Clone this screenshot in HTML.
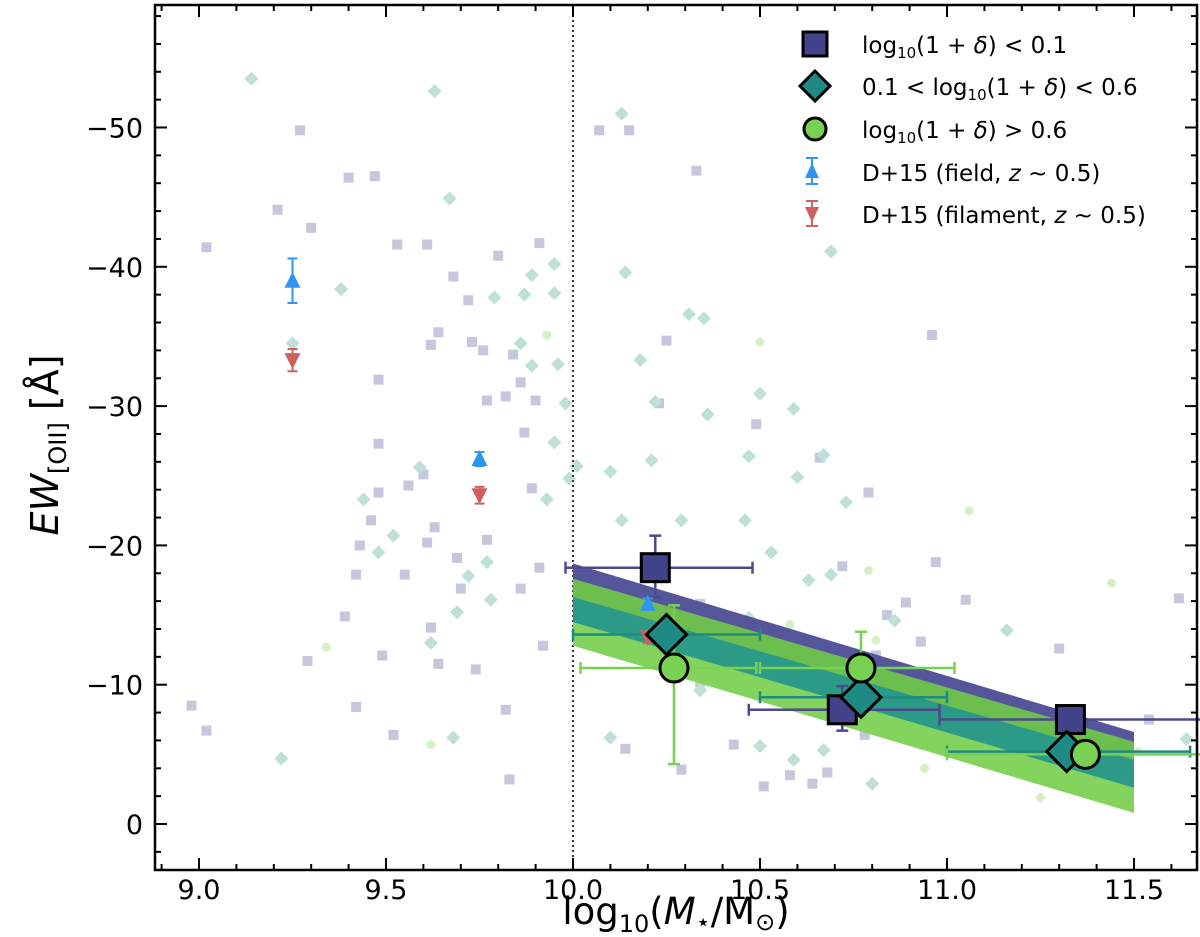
<!DOCTYPE html>
<html><head><meta charset="utf-8"><style>
body{margin:0;background:#fff}
svg{display:block;font-family:"DejaVu Sans","Liberation Sans",sans-serif}
</style></head><body>
<svg id="chart" width="1200" height="937" viewBox="0 0 1200 937"></svg>
<script>
// ---- data ----
const bgSqX=[8.98,9.02,9.02,9.27,9.30,9.29,9.40,9.47,9.21,9.48,9.48,9.48,9.46,9.43,9.42,9.39,9.49,9.42,9.52,9.53,9.61,9.64,9.62,9.68,9.72,9.73,9.76,9.77,9.80,9.82,9.84,9.86,9.87,9.90,9.89,9.91,9.91,9.86,9.77,9.70,9.69,9.63,9.61,9.60,9.56,9.55,9.62,9.64,9.74,9.82,9.83,9.92,10.07,10.15,10.33,10.25,10.23,10.34,10.34,10.41,10.43,10.51,10.58,10.64,10.68,10.75,10.81,10.89,10.93,10.96,10.66,10.49,10.72,10.79,10.84,10.97,11.05,11.17,11.30,11.62,11.54,11.37,10.14,10.29,10.68,10.78];
const bgSqY=[-8.5,-41.4,-6.7,-49.8,-42.8,-11.7,-46.4,-46.5,-44.1,-31.9,-27.3,-23.8,-21.8,-20.0,-17.9,-14.9,-12.1,-8.4,-6.4,-41.6,-41.6,-35.3,-34.4,-39.3,-37.6,-34.6,-34.0,-30.4,-40.8,-30.7,-33.7,-31.7,-28.1,-30.4,-24.1,-41.7,-18.4,-16.9,-20.4,-16.9,-19.1,-21.3,-20.2,-25.1,-24.3,-17.9,-14.1,-11.5,-11.1,-8.2,-3.2,-12.8,-49.8,-49.8,-46.9,-34.7,-30.2,-15.8,-10.2,-11.6,-5.7,-2.7,-3.5,-2.9,-9.0,-11.5,-12.1,-15.9,-13.1,-35.1,-26.3,-28.7,-18.5,-23.8,-15.0,-18.8,-16.1,-6.9,-12.6,-16.2,-7.5,-4.0,-5.4,-3.9,-3.7,-6.4];
const bgDiX=[9.14,9.22,9.38,9.25,9.44,9.48,9.52,9.59,9.62,9.69,9.72,9.77,9.78,9.93,9.68,10.13,9.63,9.67,10.14,10.31,10.35,9.95,9.95,9.89,9.87,9.79,9.86,9.89,9.96,9.98,9.95,10.01,9.99,10.10,10.18,10.21,10.36,10.22,10.29,10.47,10.50,10.59,10.67,10.60,10.46,10.53,10.47,10.63,10.69,10.73,10.76,10.67,10.80,11.43,11.64,11.21,11.16,10.10,10.34,10.45,10.50,10.59,10.62,10.86,10.69,10.79,11.09,10.06,10.13];
const bgDiY=[-53.5,-4.7,-38.4,-34.5,-23.3,-19.5,-20.7,-25.6,-13.0,-15.2,-17.8,-18.8,-16.1,-23.3,-6.2,-51.0,-52.6,-44.9,-39.6,-36.6,-36.3,-40.2,-38.1,-39.4,-38.0,-37.8,-34.5,-32.9,-33.0,-30.2,-27.4,-25.7,-24.8,-25.3,-33.3,-26.1,-29.4,-30.3,-21.8,-26.4,-30.9,-29.8,-26.5,-24.9,-21.8,-19.5,-14.8,-17.5,-41.1,-23.1,-11.1,-5.3,-2.9,-5.2,-6.1,-7.1,-13.9,-6.2,-9.6,-13.8,-5.6,-4.6,-12.0,-14.6,-17.9,-7.8,-8.9,-14.9,-21.8];
const bgCiX=[9.34,9.93,10.50,10.58,10.79,10.87,10.94,11.27,11.25,11.51,11.06,10.50,10.81,9.62,11.44];
const bgCiY=[-12.7,-35.1,-12.5,-14.3,-18.2,-7.0,-4.0,-5.7,-1.9,-5.2,-22.5,-34.6,-13.2,-5.7,-17.3];
// binned means
const sqX=[10.22,10.72,11.33], sqY=[-18.4,-8.2,-7.5], sqXlo=[9.98,10.47,10.98], sqXhi=[10.48,10.98,11.68], sqYlo=[-20.7,-9.9,-7.9], sqYhi=[-16.3,-6.7,-7.2];
const diX=[10.25,10.77,11.32], diY=[-13.6,-9.1,-5.2], diXlo=[10.0,10.5,11.0], diXhi=[10.5,11.0,11.65], diYlo=[-14.4,-9.8,-5.6], diYhi=[-12.8,-8.4,-4.8];
const ciX=[10.27,10.77,11.37], ciY=[-11.2,-11.2,-5.0], ciXlo=[10.02,10.5,11.0], ciXhi=[10.49,11.02,11.7], ciYlo=[-15.7,-13.8,-5.3], ciYhi=[-4.3,-9.0,-4.7];
const fiX=[9.25,9.75,10.2], fiY=[-39.0,-26.2,-15.8], fiErr=[1.6,0.5,0.4];
const flX=[9.25,9.75,10.2], flY=[-33.3,-23.6,-13.4], flErr=[0.8,0.6,0.4];
const bandX=[10.0,11.5];
const greenTop=[-17.6,-5.9], greenBot=[-12.8,-0.8];
const dgreenTop=[-17.6,-5.9], dgreenBot=[-16.3,-4.6];
const tealTop=[-16.3,-4.6], tealBot=[-14.5,-2.6];
const purpTop=[-18.7,-6.6], purpBot=[-17.6,-5.9];
const xTicks=[9.0,9.5,10.0,10.5,11.0,11.5];
const yTicks=[0,-10,-20,-30,-40,-50];

const X=v=>199+(v-9)*374, Y=v=>824+v*13.93;
const L=155,R=1197,T=5,B=870;
const svg=document.getElementById('chart');
const NS='http://www.w3.org/2000/svg';
function mk(tag,attrs,parent){const e=document.createElementNS(NS,tag);for(const k in attrs)e.setAttribute(k,attrs[k]);(parent||svg).appendChild(e);return e;}

const gBg=mk('g',{});


bgSqX.forEach((v,i)=>{const e=mk('rect',{x:X(v)-5,y:Y(bgSqY[i])-5,width:10,height:10,fill:'#c6c6dc'},gBg);

});
bgDiX.forEach((v,i)=>{const cx=X(v),cy=Y(bgDiY[i]);const e=mk('polygon',{points:`${cx},${cy-7} ${cx+7},${cy} ${cx},${cy+7} ${cx-7},${cy}`,fill:'#bfe0d8'},gBg);

});
bgCiX.forEach((v,i)=>{const e=mk('circle',{cx:X(v),cy:Y(bgCiY[i]),r:4.5,fill:'#d6f0c6'},gBg);

});

const dl=mk('line',{x1:X(10),x2:X(10),y1:T,y2:B,stroke:'#333','stroke-width':2,'stroke-dasharray':'2,3'});



function band(top,bot,col,name){const p=mk('polygon',{points:`${X(bandX[0])},${Y(top[0])} ${X(bandX[1])},${Y(top[1])} ${X(bandX[1])},${Y(bot[1])} ${X(bandX[0])},${Y(bot[0])}`,fill:col});

}
band(greenTop,greenBot,'#84d35e','fit-band-high-density');
band(dgreenTop,dgreenBot,'#6cbf4e','fit-band-overlap');
band(tealTop,tealBot,'#2b9a86','fit-band-mid-density');
band(purpTop,purpBot,'#55559a','fit-band-low-density');

function eb(x,y,xlo,xhi,ylo,yhi,col,name){const g=mk('g',{stroke:col,'stroke-width':2.5});


mk('line',{x1:X(xlo),x2:X(xhi),y1:Y(y),y2:Y(y)},g);
mk('line',{x1:X(xlo),x2:X(xlo),y1:Y(y)-6,y2:Y(y)+6},g);
mk('line',{x1:X(xhi),x2:X(xhi),y1:Y(y)-6,y2:Y(y)+6},g);
mk('line',{x1:X(x),x2:X(x),y1:Y(ylo),y2:Y(yhi)},g);
mk('line',{x1:X(x)-6,x2:X(x)+6,y1:Y(ylo),y2:Y(ylo)},g);
mk('line',{x1:X(x)-6,x2:X(x)+6,y1:Y(yhi),y2:Y(yhi)},g);}
sqX.forEach((v,i)=>eb(v,sqY[i],sqXlo[i],sqXhi[i],sqYlo[i],sqYhi[i],'#4a4a8c','errorbar-low-density'));
diX.forEach((v,i)=>eb(v,diY[i],diXlo[i],diXhi[i],diYlo[i],diYhi[i],'#1f8a84','errorbar-mid-density'));
ciX.forEach((v,i)=>eb(v,ciY[i],ciXlo[i],ciXhi[i],ciYlo[i],ciYhi[i],'#78d150','errorbar-high-density'));

function tri(cx,cy,up,col,err,name){const g=mk('g',{});


mk('line',{x1:cx,x2:cx,y1:cy-err,y2:cy+err,stroke:col,'stroke-width':2},g);
mk('line',{x1:cx-5,x2:cx+5,y1:cy-err,y2:cy-err,stroke:col,'stroke-width':2},g);
mk('line',{x1:cx-5,x2:cx+5,y1:cy+err,y2:cy+err,stroke:col,'stroke-width':2},g);
const s=up?1:-1;mk('polygon',{points:`${cx},${cy-9*s} ${cx+8},${cy+7*s} ${cx-8},${cy+7*s}`,fill:col},g);}
fiX.forEach((v,i)=>tri(X(v),Y(fiY[i]),true,'#2f95f0',fiErr[i]*13.93,'d15-field-point'));
flX.forEach((v,i)=>tri(X(v),Y(flY[i]),false,'#d0605e',flErr[i]*13.93,'d15-filament-point'));

function sq(cx,cy,s,name){const e=mk('rect',{x:cx-s/2,y:cy-s/2,width:s,height:s,fill:'#43438a',stroke:'#000','stroke-width':3});

}
function di(cx,cy,s,name){const e=mk('polygon',{points:`${cx},${cy-s} ${cx+s},${cy} ${cx},${cy+s} ${cx-s},${cy}`,fill:'#1f8a84',stroke:'#000','stroke-width':3});

}
function ci(cx,cy,r,name){const e=mk('circle',{cx:cx,cy:cy,r:r,fill:'#78d150',stroke:'#000','stroke-width':3});

}
sqX.forEach((v,i)=>sq(X(v),Y(sqY[i]),28,'low-density-point'));
diX.forEach((v,i)=>di(X(v),Y(diY[i]),20,'mid-density-point'));
ciX.forEach((v,i)=>ci(X(v),Y(ciY[i]),14,'high-density-point'));

const fr=mk('rect',{x:L,y:T,width:R-L,height:B-T,fill:'none',stroke:'#000','stroke-width':2.5});


const gx=mk('g',{stroke:'#000','stroke-width':2});


for(let v=8.9;v<=11.65;v+=0.1){const px=X(v);const major=xTicks.some(t=>Math.abs(t-v)<1e-6);const l=major?12:6;
mk('line',{x1:px,x2:px,y1:B,y2:B-l},gx);mk('line',{x1:px,x2:px,y1:T,y2:T+l},gx);}
xTicks.forEach(v=>{const t=mk('text',{x:X(v),y:899,'text-anchor':'middle','font-size':27,fill:'#000',stroke:'none'});t.textContent=v.toFixed(1);

});
const gy=mk('g',{stroke:'#000','stroke-width':2});


for(let v=2;v>=-58;v-=2){const py=Y(v);const major=v%10===0;const l=major?12:6;
mk('line',{x1:L,x2:L+l,y1:py,y2:py},gy);mk('line',{x1:R,x2:R-l,y1:py,y2:py},gy);}
yTicks.forEach(v=>{const t=mk('text',{x:143,y:Y(v)+10,'text-anchor':'end','font-size':27,fill:'#000',stroke:'none'});t.textContent=v===0?'0':'\u2212'+Math.abs(v);

});
</script>
<div style="position:absolute;left:0;top:0;width:1200px;height:937px;pointer-events:none">
<svg width="1200" height="937" style="position:absolute;left:0;top:0">
<text x="676" y="924" text-anchor="middle" font-size="37" font-family="DejaVu Sans, sans-serif">log<tspan font-size="24" dy="8">10</tspan><tspan dy="-8">(</tspan><tspan font-style="italic">M</tspan><tspan font-size="24" dy="6">⋆</tspan><tspan dy="-6">/M</tspan><tspan font-size="24" dy="6">⊙</tspan><tspan dy="-6">)</tspan></text>
<text transform="translate(58,445) rotate(-90)" text-anchor="middle" font-size="38" font-family="DejaVu Sans, sans-serif"><tspan font-style="italic">EW</tspan><tspan font-size="24" dy="8">[OII]</tspan><tspan dy="-8"> [Å]</tspan></text>
<g font-family="DejaVu Sans, sans-serif" font-size="23">
<g><rect x="803" y="32" width="24" height="24" fill="#43438a" stroke="#000" stroke-width="3"/><text x="862" y="53">log<tspan font-size="15" dy="5">10</tspan><tspan dy="-5">(1 + </tspan><tspan font-style="italic">δ</tspan>) &lt; 0.1</text></g>
<g><polygon points="815,71 830,86 815,101 800,86" fill="#1f8a84" stroke="#000" stroke-width="3"/><text x="862" y="95">0.1 &lt; log<tspan font-size="15" dy="5">10</tspan><tspan dy="-5">(1 + </tspan><tspan font-style="italic">δ</tspan>) &lt; 0.6</text></g>
<g><line x1="808" x2="822" y1="119" y2="119" stroke="#78d150" stroke-width="2"/><circle cx="815" cy="129" r="11" fill="#78d150" stroke="#000" stroke-width="3"/><text x="862" y="138">log<tspan font-size="15" dy="5">10</tspan><tspan dy="-5">(1 + </tspan><tspan font-style="italic">δ</tspan>) &gt; 0.6</text></g>
<g><line x1="812" x2="812" y1="158" y2="184" stroke="#2f95f0" stroke-width="2"/><line x1="806" x2="818" y1="158" y2="158" stroke="#2f95f0" stroke-width="2"/><line x1="806" x2="818" y1="184" y2="184" stroke="#2f95f0" stroke-width="2"/><polygon points="812,163 819,178 805,178" fill="#2f95f0"/><text x="862" y="181">D+15 (field, <tspan font-style="italic">z</tspan> ~ 0.5)</text></g>
<g><line x1="812" x2="812" y1="201" y2="226" stroke="#d0605e" stroke-width="2"/><line x1="806" x2="818" y1="201" y2="201" stroke="#d0605e" stroke-width="2"/><line x1="806" x2="818" y1="226" y2="226" stroke="#d0605e" stroke-width="2"/><polygon points="805,207 819,207 812,222" fill="#d0605e"/><text x="862" y="223">D+15 (filament, <tspan font-style="italic">z</tspan> ~ 0.5)</text></g>
</g>
</svg></div>
</body></html>
